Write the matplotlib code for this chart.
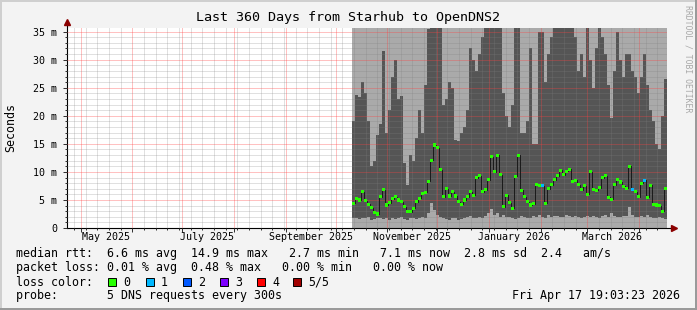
import datetime as dt
import matplotlib
matplotlib.use('Agg')
import matplotlib.pyplot as plt
import matplotlib.dates as mdates
from matplotlib.ticker import MultipleLocator, NullFormatter
from matplotlib.patches import Rectangle
from matplotlib.lines import Line2D

# time range of the graph
end_time = dt.datetime(2026, 4, 17, 19, 3, 23)
span_days = 360
data_start = dt.datetime(2025, 10, 10, 19, 0)
step_days = 1.8

# median rtt per step (ms)
median_ms = [4.4, 5.3, 5.0, 6.5, 4.9, 4.2, 3.6, 2.7, 2.5, 5.6,
             6.8, 4.1, 4.5, 5.2, 5.6, 5.0, 4.7, 3.8, 3.0, 2.9,
             3.5, 4.7, 5.3, 6.2, 6.4, 8.3, 12.1, 14.8, 14.3, 10.4,
             5.6, 7.0, 5.7, 6.5, 5.7, 4.7, 4.2, 5.0, 5.6, 6.5,
             5.8, 9.0, 9.3, 6.5, 6.8, 8.6, 12.7, 10.0, 13.0, 9.5,
             3.8, 5.8, 4.5, 3.5, 9.2, 13.0, 6.7, 5.6, 4.7, 4.1,
             4.3, 7.7, 7.5, 7.5, 4.4, 7.0, 7.7, 8.6, 9.3, 10.3,
             9.5, 10.1, 10.5, 8.3, 8.5, 7.7, 6.8, 7.5, 6.0, 10.0,
             6.8, 6.7, 7.2, 9.0, 9.3, 5.5, 5.1, 7.7, 8.6, 8.2,
             7.4, 7.1, 11.0, 6.8, 6.5, 5.6, 8.0, 8.5, 5.5, 7.6,
             4.2, 4.1, 4.0, 3.0, 7.0]

# lost pings (out of 5) per step
loss = [0] * 105
loss[63] = 1
loss[93] = 1
loss[97] = 1

# inner smoke band: lower / upper edge (ms)
smoke_lo_ms = [1.8, 1.7, 1.6, 1.8, 1.7, 1.9, 1.5, 1.6, 1.7, 1.8,
               1.6, 1.7, 1.5, 1.8, 1.6, 1.7, 1.9, 1.6, 1.5, 1.7,
               1.8, 1.6, 1.7, 2.0, 1.8, 2.6, 4.5, 3.2, 2.4, 1.9,
               1.8, 1.6, 1.5, 1.7, 1.8, 1.5, 1.6, 1.7, 1.9, 2.2,
               1.8, 1.7, 2.0, 1.8, 2.1, 2.6, 3.3, 2.4, 2.6, 2.0,
               2.3, 2.0, 1.9, 1.7, 1.6, 1.8, 2.2, 1.9, 1.7, 1.8,
               2.1, 1.9, 2.4, 2.0, 1.8, 2.3, 1.9, 2.1, 2.2, 1.9,
               2.0, 2.3, 2.1, 1.9, 2.2, 2.0, 1.8, 1.9, 2.1, 2.0,
               2.2, 1.9, 1.8, 2.1, 2.3, 2.0, 2.6, 2.1, 1.9, 2.0,
               2.2, 2.1, 3.8, 2.3, 2.0, 1.9, 2.2, 2.0, 2.4, 1.9,
               1.8, 1.7, 2.0, 1.8, 1.6]
smoke_hi_ms = [19, 23.7, 23.4, 26, 24, 19, 11, 12, 16.6, 18.5,
               31.5, 17, 21, 27, 30, 23, 23.5, 11.6, 7.7, 13,
               12, 16, 21, 17, 25.5, 35.5, 36, 36, 36, 36,
               22, 23, 26, 25, 15.7, 15.5, 17, 18, 21, 32,
               30, 28, 31, 34, 36, 36, 36, 36, 36, 36,
               24, 20, 18, 22, 36, 36, 17, 17, 19, 32,
               15, 15, 35, 35, 26, 31, 34, 36, 36, 36,
               36, 36, 36, 36, 34, 28, 31, 27, 36, 30,
               25, 32, 36, 34, 31, 25.5, 19.6, 28, 35, 30,
               27, 31, 31, 28, 27, 24, 27, 31, 25.5, 21,
               19, 15, 14, 20, 26.6]

loss_colors = ['#26ff00', '#00b8ff', '#0059ff', '#7e00ff', '#ff0000', '#a10000']
loss_labels = ['0', '1', '2', '3', '4', '5/5']
label_months = [dt.datetime(2025, 5, 16), dt.datetime(2025, 7, 16), dt.datetime(2025, 9, 16),
                dt.datetime(2025, 11, 16), dt.datetime(2026, 1, 16), dt.datetime(2026, 3, 16)]

plt.rcParams['font.family'] = 'DejaVu Sans Mono'

W, H = 697, 310
fig = plt.figure(figsize=(W / 100, H / 100), dpi=100, facecolor='#f3f3f3')
ax = fig.add_axes([67 / W, 1 - 228 / H, 600 / W, 200 / H])
ax.set_facecolor('white')

start_time = end_time - dt.timedelta(days=span_days)
x0 = mdates.date2num(start_time)
x1 = mdates.date2num(end_time)
xs = [mdates.date2num(data_start + dt.timedelta(days=step_days * i)) for i in range(len(median_ms))]
xc = [x + step_days / 2 for x in xs]

# smoke
ax.axvspan(xs[0], xs[-1] + step_days, color='#aaaaaa', lw=0, zorder=0.5)
ax.bar(xs, [h - l for h, l in zip(smoke_hi_ms, smoke_lo_ms)], bottom=smoke_lo_ms,
       width=step_days, align='edge', color='#555555', lw=0, antialiased=False, zorder=1)

# median
ax.plot(xc, median_ms, drawstyle='steps-mid', color='#1a1a1a', lw=0.7, zorder=3)
ax.scatter(xc, median_ms, marker='s', s=5, c=[loss_colors[l] for l in loss],
           linewidths=0, zorder=4)

ax.set_xlim(x0, x1)
ax.set_ylim(0, 200 / 5.61)

# grid (faint, like rrdtool's dotted lines)
ax.xaxis.set_major_locator(mdates.MonthLocator())
ax.xaxis.set_minor_locator(mdates.WeekdayLocator(byweekday=mdates.SU))
ax.xaxis.set_major_formatter(NullFormatter())
ax.yaxis.set_minor_locator(MultipleLocator(1))
ax.set_yticks(range(0, 36, 5))
ax.set_yticklabels(['0'] + ['%d m' % v for v in range(5, 36, 5)])
ax.grid(which='minor', color='#808080', alpha=0.24, lw=0.72)
ax.grid(which='major', color='#ff4040', alpha=0.32, lw=0.72)
ax.set_axisbelow(False)
ax.tick_params(which='major', length=3, width=0.72, color='#333333', labelsize=7.2, pad=4)
ax.tick_params(which='minor', length=1.5, width=0.72, color='#333333')
for s in ax.spines.values():
    s.set_visible(False)

for d in label_months:
    ax.text(mdates.date2num(d), -9 / 200, d.strftime('%B %Y'), transform=ax.get_xaxis_transform(),
            ha='center', va='center', fontsize=7.2)

# axis lines with arrows
ax.add_line(Line2D([0, 0], [0, 1.02], transform=ax.transAxes, color='black', lw=0.8, clip_on=False))
ax.add_line(Line2D([0, 1.01], [0, 0], transform=ax.transAxes, color='black', lw=0.8, clip_on=False))
ax.plot([0], [1.03], marker='^', ms=4, color='#8b0000', transform=ax.transAxes, clip_on=False)
ax.plot([1.012], [0], marker='>', ms=4, color='#8b0000', transform=ax.transAxes, clip_on=False)

fig.text(11 / W, 1 - 127 / H, 'Seconds', rotation=90, ha='center', va='center', fontsize=8.4)
fig.text(348 / W, 1 - 18 / H, 'Last 360 Days from Starhub to OpenDNS2', ha='center', va='center', fontsize=9.6)
fig.text(688 / W, 1 - 5 / H, 'RRDTOOL / TOBI OETIKER', rotation=270, ha='center', va='top',
         fontsize=5.9, color='#a8a8a8')

rows = ['median rtt:  6.6 ms avg  14.9 ms max   2.7 ms min   7.1 ms now  2.8 ms sd  2.4   am/s',
        'packet loss: 0.01 % avg  0.48 % max   0.00 % min   0.00 % now',
        'loss color:',
        'probe:       5 DNS requests every 300s']
for k, r in enumerate(rows):
    fig.text(16 / W, 1 - (254 + 14 * k) / H, r, ha='left', va='center', fontsize=8.4)
fig.text(680 / W, 1 - 296 / H, 'Fri Apr 17 19:03:23 2026', ha='right', va='center', fontsize=8.4)

box_x = [108, 145.5, 183, 220, 257, 293]
lab_x = [123, 160.5, 198, 235, 272, 308]
for bx, lx, c, lb in zip(box_x, lab_x, loss_colors, loss_labels):
    fig.add_artist(Rectangle((bx / W, 1 - 286 / H), 8 / W, 8 / H, transform=fig.transFigure,
                             facecolor=c, edgecolor='black', lw=0.7))
    fig.text(lx / W, 1 - 282 / H, lb, ha='left', va='center', fontsize=8.4)

# 3d frame
fig.add_artist(Rectangle((0, 1 - 2 / H), 1, 2 / H, transform=fig.transFigure, color='#cfcfcf', lw=0))
fig.add_artist(Rectangle((0, 0), 2 / W, 1, transform=fig.transFigure, color='#cfcfcf', lw=0))
fig.add_artist(Rectangle((0, 0), 1, 2 / H, transform=fig.transFigure, color='#9a9a9a', lw=0))
fig.add_artist(Rectangle((1 - 2 / W, 0), 2 / W, 1, transform=fig.transFigure, color='#9a9a9a', lw=0))

fig.savefig('out.png', dpi=100, facecolor=fig.get_facecolor())
